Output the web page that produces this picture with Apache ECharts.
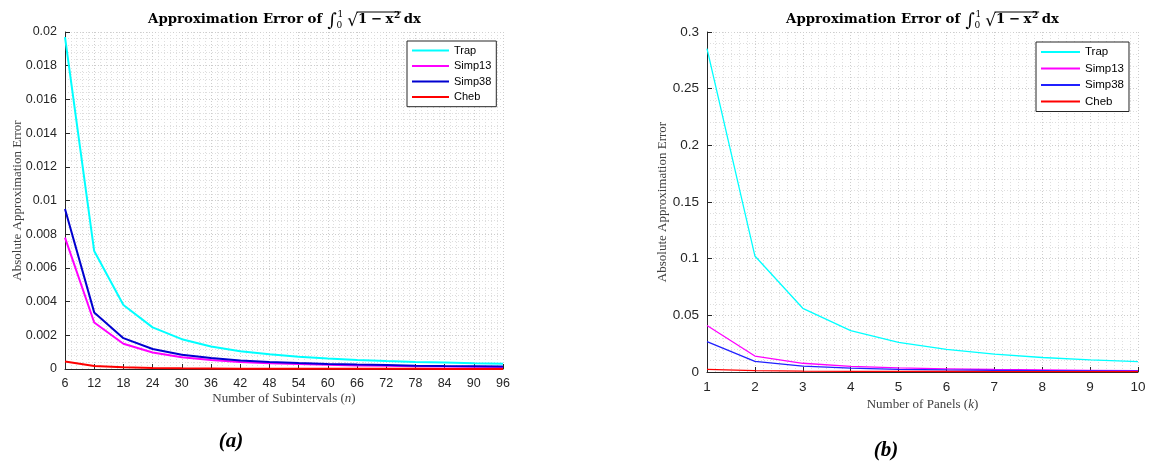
<!DOCTYPE html>
<html>
<head>
<meta charset="utf-8">
<script src="https://cdn.jsdelivr.net/npm/echarts@6/dist/echarts.min.js"></script>
<style>
  html, body { margin: 0; padding: 0; background: #fff; }
  #wrap { position: relative; width: 1149px; height: 466px; }
  #chartA { position: absolute; left: 0; top: 0; width: 600px; height: 466px; }
  #chartB { position: absolute; left: 600px; top: 0; width: 549px; height: 466px; }
</style>
</head>
<body>
<div id="wrap"><div id="chartA"></div><div id="chartB"></div></div>
<script>
// ---- (a) error versus number of subintervals n ----
const subintervals = [6, 12, 18, 24, 30, 36, 42, 48, 54, 60, 66, 72, 78, 84, 90, 96];
const trapByN   = [0.0197, 0.0070, 0.0038, 0.00247, 0.00177, 0.00134, 0.00106, 0.00087, 0.00073, 0.00062, 0.00054, 0.00047, 0.00042, 0.00038, 0.00034, 0.00031];
const simp13ByN = [0.0078, 0.00276, 0.0015, 0.00098, 0.0007, 0.00053, 0.00042, 0.00034, 0.00029, 0.00025, 0.00021, 0.00019, 0.00017, 0.00015, 0.00014, 0.00012];
const simp38ByN = [0.0095, 0.00336, 0.00183, 0.00119, 0.00085, 0.00065, 0.00051, 0.00042, 0.00035, 0.0003, 0.00026, 0.00023, 0.0002, 0.00018, 0.00017, 0.00015];
const chebByN   = [0.00045, 0.00018, 0.0001, 0.00006, 0.00004, 0.00003, 0.00002, 0.00002, 0.000015, 0.000012, 0.00001, 0.00001, 0.000008, 0.000007, 0.000006, 0.000005];
const yTicksA = ['0', '0.002', '0.004', '0.006', '0.008', '0.01', '0.012', '0.014', '0.016', '0.018', '0.02'];

// ---- (b) error versus number of panels k ----
const panels = [1, 2, 3, 4, 5, 6, 7, 8, 9, 10];
const trapByK   = [0.2854, 0.1024, 0.0562, 0.0365, 0.0262, 0.0200, 0.0158, 0.0128, 0.0107, 0.0091];
const simp13ByK = [0.041, 0.0141, 0.0077, 0.005, 0.0036, 0.0028, 0.0022, 0.0018, 0.0015, 0.0013];
const simp38ByK = [0.0268, 0.0094, 0.0052, 0.0034, 0.0024, 0.0018, 0.0014, 0.0012, 0.001, 0.00084];
const chebByK   = [0.0024, 0.0012, 0.0008, 0.0006, 0.0005, 0.00045, 0.0004, 0.00035, 0.0003, 0.00027];
const yTicksB = ['0', '0.05', '0.1', '0.15', '0.2', '0.25', '0.3'];

const methodNames = ['Trap', 'Simp13', 'Simp38', 'Cheb'];

const SERIF = '"Liberation Serif", "DejaVu Serif", serif';
const DJV = '"DejaVu Serif", serif';
const SANS = '"Liberation Sans", Arial, sans-serif';
const INK = '#262626';

const measureCtx = document.createElement('canvas').getContext('2d');
function measure(text, font) {
  measureCtx.font = font;
  return measureCtx.measureText(text);
}
// offset from the alphabetic baseline to the canvas "middle" line
function midOffset(font) {
  measureCtx.font = font;
  measureCtx.textBaseline = 'alphabetic';
  const a = measureCtx.measureText('x').actualBoundingBoxDescent;
  measureCtx.textBaseline = 'middle';
  const m = measureCtx.measureText('x').actualBoundingBoxDescent;
  measureCtx.textBaseline = 'alphabetic';
  return m - a;
}

// Title "Approximation Error of ∫_0^1 √(1 − x²) dx", laid out piece by piece
function titleGraphics(cx, base) {
  const fBold = 'bold 13.3px ' + DJV;
  const fInt = '18px ' + DJV;
  const fLim = '9px ' + DJV;
  const fSupBold = 'bold 9px ' + DJV;
  const fRad = '17px ' + DJV;

  const barY = base - 11.5;
  const radTop = measure('\u221A', fRad).actualBoundingBoxAscent;

  const pieces = [];
  let x = 0;
  function put(text, font, dy, advance) {
    const w = measure(text, font).width;
    pieces.push({ text, font, x, dy, w });
    if (advance !== false) x += w;
    return w;
  }
  put('Approximation Error of', fBold, 0);
  x += 5;
  put('\u222B', fInt, 3);
  const limX = x + 1;
  x = limX;
  put('1', fLim, -6, false);
  x = limX - 1;
  put('0', fLim, 5);
  x += 5;
  put('\u221A', fRad, barY - base + radTop);
  const barStart = x - 1.5;
  put('1', fBold, 0);
  x += 3.5;
  put('\u2212', fBold, 0);
  x += 3.5;
  put('x', fBold, 0);
  x += 0.5;
  put('2', fSupBold, -5);
  const barEnd = x + 1;
  x += 3.5;
  put('dx', fBold, 0);
  const total = x;
  const left = cx - total / 2;

  const els = pieces.map(p => ({
    type: 'text',
    silent: true,
    style: {
      text: p.text,
      x: left + p.x,
      y: base + p.dy - midOffset(p.font),
      font: p.font,
      fill: '#000',
      align: 'left',
      verticalAlign: 'middle'
    }
  }));
  els.push({
    type: 'line', silent: true,
    shape: { x1: left + barStart, y1: barY + 0.5, x2: left + barEnd, y2: barY + 0.5 },
    style: { stroke: '#000', lineWidth: 1 }
  });
  return els;
}

function axisCommon(fontSize) {
  return {
    axisLine: { show: true, onZero: false, lineStyle: { color: INK, width: 1 } },
    axisTick: { show: true, inside: true, length: 5, lineStyle: { color: INK } },
    axisLabel: { color: INK, fontFamily: SANS, fontSize: fontSize },
    splitLine: { show: true, lineStyle: { color: '#cdcdcd', type: [1, 2], width: 1 } },
    minorTick: { show: false, splitNumber: 5 },
    minorSplitLine: { show: true, lineStyle: { color: '#dedede', type: [1, 2], width: 1 } }
  };
}

function buildOption(cfg) {
  const xa = axisCommon(cfg.xFont);
  const ya = axisCommon(cfg.yFont);
  xa.minorTick.splitNumber = cfg.xMinor;
  ya.minorTick.splitNumber = cfg.yMinor;
  return {
    animation: false,
    backgroundColor: '#fff',
    grid: Object.assign({ outerBoundsMode: 'none', containLabel: false }, cfg.grid),
    legend: Object.assign({
      orient: 'vertical',
      backgroundColor: '#fff',
      borderColor: INK,
      borderWidth: 1,
      borderRadius: 0,
      itemHeight: 14,
      itemStyle: { opacity: 0 },
      textStyle: { fontFamily: SANS, color: '#000' },
      data: methodNames
    }, cfg.legend),
    xAxis: Object.assign(xa, {
      type: 'value',
      min: cfg.xMin, max: cfg.xMax, interval: cfg.xStep,
      name: cfg.xName,
      nameLocation: 'middle',
      nameGap: cfg.xNameGap,
      nameMoveOverlap: false,
      nameTextStyle: {
        fontFamily: SERIF, fontSize: 13, color: '#404040',
        rich: { i: { fontFamily: SERIF, fontSize: 13, fontStyle: 'italic', color: '#404040' } }
      }
    }),
    yAxis: Object.assign(ya, {
      type: 'value',
      min: 0, max: cfg.yMax, interval: cfg.yStep,
      name: 'Absolute Approximation Error',
      nameLocation: 'middle',
      nameGap: cfg.yNameGap,
      nameMoveOverlap: false,
      nameTextStyle: { fontFamily: SERIF, fontSize: 13, color: '#404040' }
    }),
    series: cfg.series.map(s => ({
      type: 'line',
      name: s.name,
      data: cfg.xs.map((v, i) => [v, s.values[i]]),
      symbol: 'none',
      lineStyle: { color: s.color, width: cfg.lineWidth },
      itemStyle: { color: s.color },
      z: 3
    })),
    graphic: cfg.graphic
  };
}

// tick label text taken from the tick lists
function tickFormatter(list, step) {
  return v => {
    const i = Math.round(v / step);
    return list[i] !== undefined ? list[i] : String(v);
  };
}

const optA = buildOption({
  grid: { left: 65, right: 97, top: 32, bottom: 97 },
  xs: subintervals,
  xMin: 6, xMax: 96, xStep: 6, xMinor: 5, yMinor: 5,
  yMax: 0.02, yStep: 0.002,
  xFont: 12.5, yFont: 12.5,
  xName: 'Number of Subintervals ({i|n})', xNameGap: 23, yNameGap: 41,
  lineWidth: 2,
  legend: { left: 407, top: 41, itemWidth: 37, itemGap: 4.3, padding: [4, 5, 4, 4], textStyle: { fontFamily: SANS, fontSize: 11, color: '#000' } },
  series: [
    { name: 'Trap', values: trapByN, color: '#00ffff' },
    { name: 'Simp13', values: simp13ByN, color: '#ff00ff' },
    { name: 'Simp38', values: simp38ByN, color: '#0000d0' },
    { name: 'Cheb', values: chebByN, color: '#ff0000' }
  ],
  graphic: titleGraphics(284.5, 23).concat([{
    type: 'text', silent: true,
    style: { text: '(a)', x: 231, y: 442, font: 'bold italic 21px ' + SERIF, fill: '#000', align: 'center', verticalAlign: 'middle' }
  }])
});
optA.yAxis.axisLabel.formatter = tickFormatter(yTicksA, 0.002);

const optB = buildOption({
  grid: { left: 107, right: 11, top: 32, bottom: 94 },
  xs: panels,
  xMin: 1, xMax: 10, xStep: 1, xMinor: 6, yMinor: 5,
  yMax: 0.3, yStep: 0.05,
  xFont: 13.5, yFont: 13.5,
  xName: 'Number of Panels ({i|k})', xNameGap: 26.5, yNameGap: 37.5,
  lineWidth: 1.3,
  legend: { left: 436, top: 42, itemWidth: 39, itemGap: 4.5, padding: [4, 5, 4, 4], textStyle: { fontFamily: SANS, fontSize: 11.5, color: '#000' } },
  series: [
    { name: 'Trap', values: trapByK, color: '#00ffff' },
    { name: 'Simp13', values: simp13ByK, color: '#ff00ff' },
    { name: 'Simp38', values: simp38ByK, color: '#2020ff' },
    { name: 'Cheb', values: chebByK, color: '#ff0000' }
  ],
  graphic: titleGraphics(322.5, 23).concat([{
    type: 'text', silent: true,
    style: { text: '(b)', x: 286, y: 451, font: 'bold italic 21px ' + SERIF, fill: '#000', align: 'center', verticalAlign: 'middle' }
  }])
});
optB.yAxis.axisLabel.formatter = tickFormatter(yTicksB, 0.05);

echarts.init(document.getElementById('chartA'), null, { renderer: 'canvas' }).setOption(optA);
echarts.init(document.getElementById('chartB'), null, { renderer: 'canvas' }).setOption(optB);
</script>
</body>
</html>
